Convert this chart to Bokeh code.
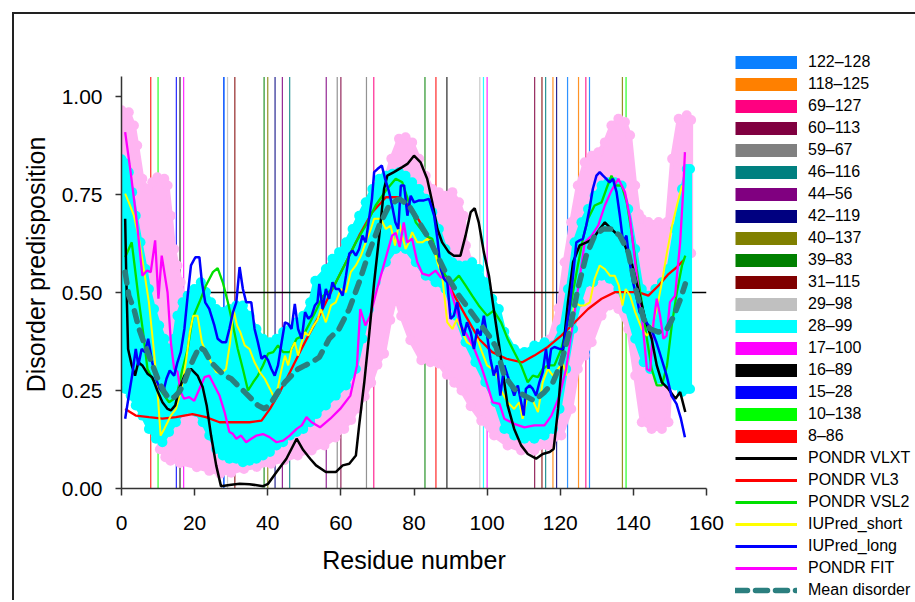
from bokeh.plotting import figure
from bokeh.models import Range1d, FixedTicker, NumeralTickFormatter, Legend, LegendItem
from bokeh.embed import file_html
from bokeh.resources import INLINE

# ---------------- data ----------------
# residue pairs (vertical marker lines), in legend order
PAIR_LABELS = ["122–128", "118–125", "69–127", "60–113", "59–67", "46–116", "44–56",
               "42–119", "40–137", "39–83", "31–115", "29–98", "28–99", "17–100",
               "16–89", "15–28", "10–138", "8–86"]
PAIR_A = [122, 118, 69, 60, 59, 46, 44, 42, 40, 39, 31, 29, 28, 17, 16, 15, 10, 8]
PAIR_B = [128, 125, 127, 113, 67, 116, 56, 119, 137, 83, 115, 98, 99, 100, 89, 28, 138, 86]
PAIR_COLORS = ["#0a80ff", "#ff8000", "#ff0080", "#800040", "#808080", "#008080", "#800080",
               "#000080", "#808000", "#008000", "#800000", "#c0c0c0", "#00ffff", "#ff00ff",
               "#000000", "#0000ff", "#00ff00", "#ff0000"]

THRESHOLD = 0.5
THRESHOLD_FROM = 15
THRESHOLD_TO = 160
Y_TOP = 1.05

X_TICKS = [0, 20, 40, 60, 80, 100, 120, 140, 160]
Y_TICKS = [0.0, 0.25, 0.5, 0.75, 1.0]

VLXT_X = [1, 1.3, 1.8, 2.8, 3.7, 4.6, 5.7, 7.1, 8.4, 9.8, 11.2, 12.6, 13.5, 14.7, 15.8, 17.2, 19, 20.8,
          22.2, 23.3, 24.5, 25.9, 27.2, 29.5, 32.3, 35, 38.7, 40.1, 42.4, 45.1, 47.9, 49.7, 51.6, 53.2,
          55.9, 58.6, 60.5, 62.3, 64.1, 65, 66.4, 67.7, 69.1, 70.5, 71.8, 72.7, 74.5, 76.8, 78.2, 80,
          81.8, 83.6, 85, 86.4, 87.7, 89.5, 90.9, 92.7, 94.1, 95.5, 96.6, 97.7, 99.1, 100.5, 101.8,
          103.2, 104.4, 105.6, 107.4, 109.3, 111.1, 113.4, 115.2, 117.1, 118.2, 119.4, 120.7, 122.1,
          123.5, 125.3, 127.2, 129, 130.8, 132.2, 134, 135.9, 137.7, 139.5, 141.3, 143.2, 145, 146.4,
          147.8, 149.6, 151.5, 152.8, 154.2]
VLXT_Y = [0.688, 0.543, 0.356, 0.314, 0.288, 0.322, 0.314, 0.293, 0.284, 0.250, 0.220, 0.203, 0.199,
          0.212, 0.254, 0.288, 0.305, 0.288, 0.259, 0.212, 0.135, 0.059, 0.006, 0.009, 0.012, 0.011,
          0.006, 0.012, 0.042, 0.076, 0.127, 0.098, 0.076, 0.059, 0.042, 0.042, 0.059, 0.063, 0.084,
          0.161, 0.271, 0.390, 0.526, 0.645, 0.764, 0.798, 0.807, 0.820, 0.828, 0.849, 0.832, 0.790,
          0.730, 0.662, 0.628, 0.603, 0.594, 0.594, 0.645, 0.705, 0.715, 0.679, 0.603, 0.543, 0.458,
          0.370, 0.290, 0.212, 0.152, 0.110, 0.088, 0.076, 0.088, 0.093, 0.101, 0.203, 0.348, 0.475,
          0.577, 0.620, 0.628, 0.637, 0.662, 0.679, 0.662, 0.645, 0.620, 0.577, 0.509, 0.433, 0.382,
          0.314, 0.271, 0.254, 0.229, 0.246, 0.195]

VL3_X = [1, 3.9, 7.5, 11.2, 14.9, 19.4, 23.1, 26.8, 30.5, 35, 38.3, 40.6, 43.3, 46.1, 48.8, 51.1, 54.1,
         57.7, 61.4, 65, 68.6, 72.3, 75.9, 79.5, 83.2, 86.8, 90.5, 94.1, 97.7, 101.4, 105.3, 109.6,
         112.9, 116.6, 120.3, 124, 127.6, 131.3, 135, 138.6, 141.3, 144.1, 146.9, 149.6, 151.9, 153.7]
VL3_Y = [0.203, 0.186, 0.182, 0.178, 0.182, 0.190, 0.182, 0.169, 0.169, 0.169, 0.173, 0.203, 0.246,
         0.297, 0.348, 0.390, 0.441, 0.509, 0.577, 0.645, 0.705, 0.743, 0.743, 0.714, 0.654, 0.577,
         0.501, 0.441, 0.382, 0.348, 0.331, 0.322, 0.339, 0.361, 0.390, 0.424, 0.458, 0.484, 0.501,
         0.501, 0.501, 0.492, 0.518, 0.547, 0.565, 0.582]

VSL2_X = [1, 2.8, 3.7, 4.8, 5.9, 7.1, 8.4, 9.8, 11.7, 13, 14.4, 15.3, 16.7, 18.1, 19.4, 21.3, 23.1, 25,
          26.3, 27.7, 29.1, 30.5, 31.8, 33.2, 34.6, 36, 37.3, 38.7, 40.1, 41.5, 42.8, 44.2, 46.1, 47.9,
          49.7, 51.6, 53.4, 55, 57.7, 61.4, 64.1, 66.8, 69.5, 72.3, 75, 76.8, 78.6, 80.5, 83.2, 85,
          86.8, 88.6, 90.5, 92.3, 94.1, 95.9, 97.7, 100, 101.8, 103.8, 105.6, 107.4, 109.3, 111.1,
          112.5, 113.9, 115.2, 116.6, 118.4, 120.3, 121.6, 123, 124.8, 126.2, 127.6, 129.4, 131.3,
          132.6, 134, 135.4, 136.8, 138.2, 139.5, 140.9, 142.3, 143.7, 145, 146.4, 147.8, 149.2,
          150.5, 151.9, 153.3, 154.2]
VSL2_Y = [0.590, 0.628, 0.560, 0.475, 0.399, 0.305, 0.280, 0.263, 0.237, 0.220, 0.229, 0.246, 0.305,
          0.356, 0.433, 0.475, 0.518, 0.552, 0.562, 0.526, 0.475, 0.416, 0.356, 0.305, 0.250, 0.271,
          0.288, 0.314, 0.344, 0.348, 0.365, 0.348, 0.348, 0.382, 0.390, 0.424, 0.458, 0.490, 0.509,
          0.577, 0.628, 0.671, 0.722, 0.760, 0.790, 0.781, 0.730, 0.679, 0.645, 0.637, 0.577, 0.543,
          0.526, 0.543, 0.518, 0.492, 0.467, 0.441, 0.454, 0.424, 0.382, 0.348, 0.314, 0.271, 0.288,
          0.284, 0.305, 0.314, 0.314, 0.356, 0.407, 0.475, 0.569, 0.637, 0.688, 0.722, 0.730, 0.764,
          0.798, 0.773, 0.773, 0.730, 0.654, 0.560, 0.475, 0.382, 0.305, 0.263, 0.263, 0.314, 0.416,
          0.501, 0.569, 0.594]

SHORT_X = [1, 2, 3.4, 4.8, 6.1, 7.5, 8.9, 9.8, 10.7, 11.7, 12.6, 13.5, 14.9, 16.2, 17.6, 18.7, 19.6,
           20.8, 22, 23.1, 24.5, 25.9, 27.2, 28.6, 29.7, 30.6, 31.6, 32.5, 33.7, 35, 36.4, 37.8, 39.2,
           40.6, 41.9, 42.8, 43.8, 44.7, 45.6, 46.5, 47.4, 48.3, 49.3, 50.2, 51.1, 52.5, 53.6, 54.5,
           55.9, 57.3, 58.6, 60, 61.4, 62.7, 64.1, 65.5, 66.8, 68.2, 69.1, 70.9, 72.3, 73.6, 74.8,
           75.9, 76.8, 77.7, 78.6, 79.5, 80.9, 82.3, 83.6, 85, 86.4, 87.7, 89.1, 90.5, 91.8, 93.2,
           94.5, 95.9, 97.3, 98.6, 100, 101.4, 102.7, 103.8, 105.6, 107.4, 108.8, 109.7, 111.1,
           112.5, 113.9, 115.2, 116.6, 118, 119.4, 120.7, 121.6, 122.5, 123.9, 125.3, 126.7, 128.1,
           129.4, 130.8, 132.2, 133.6, 134.9, 136, 137, 137.9, 139.1, 140.5, 142.3, 143.7, 145,
           146.4, 147.8, 149.2, 150.6, 151.9, 153.3]
SHORT_Y = [0.752, 0.730, 0.696, 0.637, 0.560, 0.475, 0.348, 0.254, 0.135, 0.152, 0.169, 0.186, 0.203,
           0.246, 0.322, 0.399, 0.441, 0.441, 0.373, 0.348, 0.322, 0.297, 0.293, 0.305, 0.373, 0.458,
           0.416, 0.399, 0.365, 0.356, 0.322, 0.297, 0.280, 0.254, 0.229, 0.259, 0.305, 0.339, 0.314,
           0.356, 0.373, 0.339, 0.373, 0.399, 0.390, 0.415, 0.430, 0.458, 0.424, 0.467, 0.475, 0.509,
           0.501, 0.552, 0.569, 0.594, 0.628, 0.662, 0.688, 0.688, 0.662, 0.671, 0.620, 0.679, 0.645,
           0.611, 0.628, 0.654, 0.628, 0.628, 0.637, 0.628, 0.577, 0.543, 0.424, 0.407, 0.433, 0.399,
           0.373, 0.365, 0.382, 0.348, 0.314, 0.305, 0.288, 0.250, 0.220, 0.203, 0.220, 0.178, 0.237,
           0.224, 0.195, 0.271, 0.305, 0.288, 0.305, 0.322, 0.288, 0.373, 0.475, 0.467, 0.467, 0.475,
           0.535, 0.569, 0.560, 0.543, 0.543, 0.518, 0.467, 0.509, 0.492, 0.450, 0.407, 0.390, 0.407,
           0.458, 0.526, 0.603, 0.671, 0.722, 0.773]

LONG_X = [1, 2, 2.9, 3.9, 4.6, 5.5, 6.4, 7.3, 8.4, 9.4, 10.5, 11.4, 12.3, 13.2, 14.4, 15.3, 16.2, 17.2,
          18.1, 19, 20.2, 21.3, 22, 22.9, 24, 25.4, 26.3, 27.5, 28.6, 29.5, 30.5, 31.4, 32.3, 33.2,
          34.1, 35.5, 36.4, 37.3, 38.3, 39.2, 40.1, 41, 41.9, 42.8, 43.8, 44.7, 45.6, 46.5, 47.4,
          48.3, 49.3, 50.2, 51.1, 52, 52.9, 53.6, 54.1, 55, 55.9, 56.8, 57.7, 58.6, 59.5, 60.5, 61.4,
          62.3, 63.2, 64.1, 65, 65.9, 66.8, 67.7, 68.5, 69.1, 70, 71.2, 72.1, 73.2, 74, 74.9, 75.7,
          76.4, 77.3, 78.2, 79.1, 80, 81.4, 82.7, 84.1, 85.5, 86.4, 87.3, 88.2, 89.1, 90, 90.9, 91.8,
          92.7, 93.6, 94.5, 95.5, 96.4, 97.3, 98.2, 99.1, 100, 100.9, 101.8, 102.7, 103.6, 104.7,
          105.6, 106.5, 107.4, 108.4, 109.3, 110, 110.6, 111.6, 112.5, 113.4, 114.3, 115.2, 116.1,
          116.8, 117.5, 118.4, 119.8, 120.7, 121.6, 122.5, 123.5, 124.4, 125.3, 126.2, 127.1, 128,
          128.9, 129.9, 130.8, 131.7, 132.6, 133.5, 134.4, 135.4, 136.3, 137.2, 138.1, 139, 139.9,
          140.8, 141.7, 142.6, 143.5, 144.9, 146.3, 147.7, 149.1, 150.4, 151.8, 153, 154.1]
LONG_Y = [0.178, 0.237, 0.288, 0.356, 0.314, 0.356, 0.348, 0.382, 0.322, 0.280, 0.254, 0.246, 0.280,
          0.301, 0.288, 0.322, 0.348, 0.407, 0.492, 0.569, 0.590, 0.590, 0.526, 0.475, 0.458, 0.416,
          0.382, 0.373, 0.373, 0.407, 0.450, 0.475, 0.565, 0.509, 0.475, 0.475, 0.407, 0.373, 0.331,
          0.339, 0.327, 0.305, 0.288, 0.314, 0.373, 0.424, 0.420, 0.407, 0.471, 0.407, 0.382, 0.450,
          0.433, 0.441, 0.467, 0.475, 0.522, 0.458, 0.509, 0.484, 0.526, 0.509, 0.509, 0.492, 0.543,
          0.599, 0.607, 0.594, 0.611, 0.645, 0.628, 0.688, 0.739, 0.807, 0.815, 0.824, 0.790, 0.756,
          0.722, 0.679, 0.662, 0.773, 0.773, 0.696, 0.747, 0.730, 0.735, 0.735, 0.739, 0.696, 0.637,
          0.560, 0.535, 0.526, 0.433, 0.441, 0.475, 0.424, 0.390, 0.424, 0.399, 0.356, 0.407, 0.390,
          0.441, 0.390, 0.331, 0.288, 0.314, 0.237, 0.314, 0.288, 0.263, 0.237, 0.263, 0.220, 0.186,
          0.254, 0.263, 0.254, 0.237, 0.271, 0.297, 0.356, 0.305, 0.356, 0.361, 0.356, 0.356, 0.407,
          0.458, 0.543, 0.628, 0.633, 0.637, 0.671, 0.713, 0.764, 0.798, 0.807, 0.798, 0.790, 0.781,
          0.790, 0.756, 0.696, 0.628, 0.645, 0.577, 0.526, 0.492, 0.450, 0.441, 0.424, 0.407, 0.373,
          0.331, 0.288, 0.237, 0.216, 0.178, 0.131]

FIT_X = [1, 2.5, 4.3, 5.7, 7, 8, 9.2, 10.1, 11, 12.6, 13.5, 14.4, 15.3, 16.2, 17.1, 18.5, 19.9, 21.3,
         22.7, 24, 25.4, 26.8, 28.2, 29.5, 30.4, 31.4, 32.7, 34.1, 35.5, 36.9, 38.7, 40.5, 42.4, 44.2,
         46, 47.9, 49.3, 50.6, 52, 54.3, 57.1, 59.8, 62.6, 64.4, 65.3, 66.7, 68, 69.9, 71.7, 74, 75,
         76.1, 77.2, 78.1, 79.5, 80.9, 82.3, 84.1, 85.9, 87.3, 89.1, 91, 92.8, 94.6, 96.5, 98.3,
         100.1, 101.5, 103.4, 104.7, 107.4, 110.2, 112.9, 115.7, 117.6, 119.8, 121.6, 123.5, 125.4,
         126.7, 128.6, 130.4, 132.2, 134, 135.9, 137.7, 139.1, 140.5, 142.3, 143.7, 144.6, 145.5,
         146.4, 147.3, 148.2, 149.1, 150, 151.4, 152.8, 153.6, 154.1]
FIT_Y = [0.909, 0.807, 0.671, 0.543, 0.556, 0.552, 0.633, 0.484, 0.594, 0.500, 0.373, 0.305, 0.298,
         0.246, 0.229, 0.233, 0.224, 0.254, 0.284, 0.288, 0.263, 0.237, 0.195, 0.144, 0.140, 0.127,
         0.135, 0.118, 0.127, 0.135, 0.139, 0.131, 0.118, 0.122, 0.135, 0.152, 0.161, 0.182, 0.169,
         0.156, 0.178, 0.203, 0.237, 0.314, 0.458, 0.416, 0.441, 0.509, 0.569, 0.645, 0.652, 0.616,
         0.679, 0.628, 0.637, 0.577, 0.548, 0.543, 0.556, 0.539, 0.535, 0.475, 0.416, 0.390, 0.356,
         0.314, 0.263, 0.220, 0.216, 0.178, 0.165, 0.156, 0.161, 0.161, 0.186, 0.237, 0.305, 0.424,
         0.543, 0.628, 0.645, 0.671, 0.722, 0.760, 0.790, 0.756, 0.688, 0.577, 0.441, 0.305, 0.300,
         0.424, 0.484, 0.441, 0.382, 0.390, 0.475, 0.492, 0.628, 0.756, 0.858]

MEAN_X = [1, 2, 3.4, 4.8, 6.1, 7.5, 8.9, 10.3, 11.7, 13, 14.4, 15.8, 17.2, 18.5, 19.9, 21.3, 22.7, 24.5,
          26.3, 28.2, 30, 31.8, 33.7, 35.5, 37.3, 39.2, 41, 42.8, 44.7, 46.5, 48.3, 50.2, 52, 54.1,
          56.8, 59.5, 62.3, 65, 67.7, 70.5, 73.2, 75.9, 78.6, 81.4, 84.1, 86.8, 89.5, 92.3, 95, 97.7,
          100.5, 102.5, 104.7, 107.4, 110.2, 112.9, 115.7, 118, 120.3, 122.5, 124.8, 127.1, 129.4,
          131.7, 134, 136.3, 138.6, 140.9, 142.8, 144.6, 146.9, 149.2, 151.1, 152.9, 154.2]
MEAN_Y = [0.552, 0.492, 0.458, 0.407, 0.373, 0.339, 0.305, 0.271, 0.246, 0.229, 0.233, 0.246, 0.271,
          0.305, 0.335, 0.361, 0.352, 0.322, 0.305, 0.288, 0.280, 0.263, 0.246, 0.229, 0.212, 0.203,
          0.220, 0.246, 0.271, 0.288, 0.305, 0.314, 0.322, 0.335, 0.382, 0.407, 0.458, 0.526, 0.603,
          0.671, 0.722, 0.739, 0.722, 0.679, 0.637, 0.586, 0.535, 0.492, 0.458, 0.424, 0.390, 0.360,
          0.288, 0.254, 0.237, 0.224, 0.246, 0.271, 0.322, 0.399, 0.509, 0.594, 0.645, 0.662, 0.662,
          0.645, 0.603, 0.501, 0.433, 0.407, 0.399, 0.407, 0.441, 0.484, 0.522]

# cyan band (mean disorder spread)
CYAN_UP_X = [0, 1, 2, 2.9, 3.9, 5.2, 6.6, 7.5, 8.9, 10.3, 11.7, 13, 14.4, 15.3, 16.7, 18.1, 19.9, 21.7,
             23.1, 24.5, 25.9, 27.7, 29.5, 31.4, 33.2, 35, 36.9, 38.7, 40.6, 42.4, 44.2, 46.1, 47.9,
             49.7, 51.6, 53, 55.9, 57.7, 59.5, 61.4, 63.2, 65, 66.8, 68.6, 70.5, 72.3, 74.1, 75.9,
             77.7, 79.5, 81.4, 83.2, 85, 86.8, 88.6, 90.5, 92.3, 94.1, 95.9, 97.7, 99.5, 101.4, 103.2,
             104.7, 107.4, 110.2, 112.9, 115.7, 118, 120.3, 122.1, 123.9, 125.8, 127.6, 129.4, 131.3,
             133.1, 134.9, 136.8, 138.6, 140.5, 142.3, 144.1, 146, 147.8, 149.6, 151.4, 153.3, 154.6,
             155.5]
CYAN_UP_Y = [0.840, 0.830, 0.807, 0.756, 0.696, 0.628, 0.560, 0.509, 0.458, 0.416, 0.382, 0.356, 0.382,
             0.441, 0.475, 0.492, 0.509, 0.526, 0.501, 0.475, 0.458, 0.450, 0.458, 0.467, 0.467, 0.441,
             0.407, 0.382, 0.373, 0.382, 0.399, 0.407, 0.424, 0.441, 0.475, 0.530, 0.560, 0.586, 0.603,
             0.628, 0.662, 0.696, 0.730, 0.764, 0.790, 0.798, 0.803, 0.807, 0.798, 0.781, 0.764, 0.739,
             0.705, 0.662, 0.611, 0.577, 0.569, 0.569, 0.577, 0.560, 0.526, 0.484, 0.458, 0.400, 0.356,
             0.348, 0.365, 0.373, 0.365, 0.407, 0.509, 0.628, 0.679, 0.713, 0.747, 0.773, 0.781, 0.781,
             0.773, 0.713, 0.611, 0.509, 0.492, 0.509, 0.526, 0.560, 0.662, 0.764, 0.815, 0.815]
CYAN_LO_X = [0, 1.1, 2.5, 3.9, 5.7, 7.5, 9.4, 11.2, 13, 14.9, 16.7, 18.5, 20.4, 22.2, 24, 25.9, 27.7,
             29.5, 31.4, 33.2, 35, 36.9, 38.7, 40.6, 42.4, 44.2, 46.1, 47.9, 49.7, 51.6, 53.4, 55.9,
             58.6, 61.4, 64.1, 65.9, 67.7, 69.5, 72.3, 75, 77.7, 80.5, 83.2, 85.9, 88.6, 91.4, 94.1,
             96.8, 99.5, 102.3, 104.7, 107.4, 110.2, 112.9, 115.7, 118, 119.8, 121.6, 123.5, 125.3,
             127.1, 129, 131.3, 133.5, 135.9, 138.2, 140.5, 142.8, 144.6, 146.9, 149.2, 151.4, 153.3,
             154.6, 155.5]
CYAN_LO_Y = [0.288, 0.254, 0.237, 0.212, 0.186, 0.152, 0.127, 0.118, 0.144, 0.169, 0.195, 0.203, 0.195,
             0.169, 0.135, 0.101, 0.084, 0.076, 0.076, 0.067, 0.071, 0.076, 0.084, 0.093, 0.110, 0.118,
             0.135, 0.144, 0.152, 0.169, 0.190, 0.212, 0.237, 0.263, 0.305, 0.382, 0.458, 0.526, 0.577,
             0.611, 0.611, 0.577, 0.543, 0.526, 0.509, 0.441, 0.373, 0.322, 0.271, 0.220, 0.152, 0.135,
             0.127, 0.127, 0.135, 0.152, 0.203, 0.305, 0.407, 0.475, 0.526, 0.526, 0.543, 0.535, 0.509,
             0.458, 0.382, 0.322, 0.305, 0.280, 0.271, 0.263, 0.246, 0.254, 0.254]

# pink band (PONDR FIT error)
PINK_UP_X = [0, 2, 3.4, 4.3, 5.7, 7.1, 8.4, 9.8, 11.7, 12.6, 13.5, 14.4, 15.3, 16.2, 17.2, 18.5, 21,
             25, 30, 35, 40, 45, 50, 55, 60, 64, 67, 70, 72, 73.8, 75.9, 77.7, 79.5, 81.4, 83.2, 85,
             86.8, 88.6, 90.5, 92.3, 93.6, 94.2, 95.5, 98, 102, 106, 110, 114, 117, 119.5, 121.2, 123,
             124.8, 126.7, 128.6, 130.4, 132.2, 134, 135.9, 137.7, 139.1, 140.5, 141.5, 142.3, 144.1,
             146.9, 149.2, 150.6, 152.4, 154.6, 155.8]
PINK_UP_Y = [0.965, 0.960, 0.926, 0.875, 0.790, 0.764, 0.781, 0.794, 0.790, 0.773, 0.696, 0.611, 0.569,
             0.526, 0.475, 0.420, 0.400, 0.400, 0.320, 0.300, 0.280, 0.300, 0.330, 0.380, 0.420, 0.500,
             0.620, 0.720, 0.780, 0.841, 0.892, 0.896, 0.883, 0.841, 0.798, 0.764, 0.756, 0.747, 0.756,
             0.730, 0.696, 0.620, 0.580, 0.450, 0.400, 0.350, 0.330, 0.340, 0.380, 0.460, 0.577, 0.679,
             0.773, 0.832, 0.849, 0.858, 0.883, 0.926, 0.943, 0.935, 0.901, 0.773, 0.700, 0.688, 0.680,
             0.680, 0.680, 0.841, 0.943, 0.952, 0.940]
PINK_LO_X = [0, 2, 4, 6, 8, 9.5, 10.5, 12, 13.4, 16, 20.6, 24, 27, 30, 33.5, 37, 40.9, 44.5, 48.2, 52,
             55.5, 58.5, 60.9, 62.8, 64.6, 66.5, 68.3, 70, 71.8, 73.5, 75, 76.5, 79, 82, 84.5, 86.7,
             89, 91, 93, 95.5, 98.4, 101.9, 105.6, 109.3, 112.9, 116.6, 120.3, 123, 124.8, 126.7,
             128.6, 131.3, 133.5, 135.9, 138.6, 140.5, 142.3, 145, 147.8, 149.6, 150.8, 152.5, 155.8]
PINK_LO_Y = [0.600, 0.550, 0.450, 0.350, 0.250, 0.150, 0.100, 0.080, 0.071, 0.065, 0.054, 0.045, 0.038,
             0.040, 0.050, 0.055, 0.063, 0.072, 0.084, 0.097, 0.110, 0.130, 0.152, 0.175, 0.204, 0.235,
             0.270, 0.316, 0.344, 0.430, 0.487, 0.440, 0.378, 0.327, 0.322, 0.319, 0.290, 0.270, 0.250,
             0.210, 0.173, 0.135, 0.110, 0.097, 0.097, 0.110, 0.135, 0.203, 0.305, 0.339, 0.373, 0.441,
             0.467, 0.458, 0.407, 0.288, 0.169, 0.152, 0.152, 0.169, 0.400, 0.550, 0.600]

PINK = "#ffb5f2"
CYAN = "#00ffff"

# ---------------- figure ----------------
p = figure(frame_width=585, frame_height=448, output_backend="svg", toolbar_location=None,
           x_range=Range1d(0, 160), y_range=Range1d(0, 1.1429),
           min_border_left=121, min_border_right=208, min_border_top=40, min_border_bottom=112)
p.grid.visible = False
p.outline_line_color = None
p.border_fill_color = None
p.background_fill_color = "white"
p.styles = {"box-shadow": "inset 12px 12px 0 0 #ffffff, inset 14px 14px 0 0 #222222"}

FONT = "Liberation Sans"
for ax in (p.xaxis[0], p.yaxis[0]):
    ax.axis_line_width = 1.5
    ax.axis_line_color = "#333333"
    ax.major_tick_line_color = "#333333"
    ax.major_tick_line_width = 1.5
    ax.major_tick_in = 0
    ax.minor_tick_line_color = None
    ax.major_label_text_font = FONT
    ax.major_label_text_font_size = "21px"
    ax.major_label_text_color = "black"
    ax.axis_label_text_font = FONT
    ax.axis_label_text_font_size = "25px"
    ax.axis_label_text_font_style = "normal"
    ax.axis_label_text_color = "black"

p.xaxis.bounds = (0, 160)
p.xaxis.ticker = FixedTicker(ticks=X_TICKS)
p.xaxis.major_tick_out = 7
p.xaxis.major_label_standoff = 20
p.xaxis.axis_label = "Residue number"
p.xaxis.axis_label_standoff = 13

p.yaxis.bounds = (0, Y_TOP)
p.yaxis.ticker = FixedTicker(ticks=Y_TICKS)
p.yaxis.formatter = NumeralTickFormatter(format="0.00")
p.yaxis.major_tick_out = 6
p.yaxis.major_label_standoff = 13
p.yaxis.axis_label = "Disorder predisposition"
p.yaxis.axis_label_standoff = 9

# vertical residue-pair lines
for a, b, c in zip(PAIR_A, PAIR_B, PAIR_COLORS):
    p.segment(x0=[a, b], y0=[0, 0], x1=[a, b], y1=[Y_TOP, Y_TOP], line_color=c, line_width=1.2,
              line_alpha=0.85)

# threshold
p.segment(x0=[THRESHOLD_FROM], y0=[THRESHOLD], x1=[THRESHOLD_TO], y1=[THRESHOLD],
          line_color="black", line_width=1.3)

# bands (patch plus round beads on the edges, like the thick-marker bands of the original)
p.patch(PINK_UP_X + PINK_LO_X[::-1], PINK_UP_Y + PINK_LO_Y[::-1], fill_color=PINK,
        line_color=PINK, line_width=4, line_join="round")
p.scatter(PINK_UP_X + PINK_LO_X, PINK_UP_Y + PINK_LO_Y, size=10, marker="circle",
          fill_color=PINK, line_color=None)
p.patch(CYAN_UP_X + CYAN_LO_X[::-1], CYAN_UP_Y + CYAN_LO_Y[::-1], fill_color=CYAN,
        line_color=CYAN, line_width=4, line_join="round")
p.scatter(CYAN_UP_X + CYAN_LO_X, CYAN_UP_Y + CYAN_LO_Y, size=10, marker="circle",
          fill_color=CYAN, line_color=None)

# predictor curves
p.line(VL3_X, VL3_Y, line_color="#ff0000", line_width=2.3)
p.line(VSL2_X, VSL2_Y, line_color="#00e000", line_width=2.3)
p.line(SHORT_X, SHORT_Y, line_color="#ffff00", line_width=2.0)
p.line(FIT_X, FIT_Y, line_color="#ff00ff", line_width=2.3)
p.line(VLXT_X, VLXT_Y, line_color="#000000", line_width=2.5)
p.line(LONG_X, LONG_Y, line_color="#0000ff", line_width=2.5)
p.line(MEAN_X, MEAN_Y, line_color="#2b7f7f", line_width=5.5, line_dash="11 9", line_cap="round")

# legend swatches (legend-only renderers with a single NaN point, so nothing is drawn in the plot)
NAN = [float("nan")]
items = []
for lab, c in zip(PAIR_LABELS, PAIR_COLORS):
    r = p.line(NAN, NAN, line_color=c, line_width=13)
    items.append(LegendItem(label=lab, renderers=[r]))
LINE_LABELS = ["PONDR VLXT", "PONDR VL3", "PONDR VSL2", "IUPred_short", "IUPred_long", "PONDR FIT"]
LINE_COLORS = ["#000000", "#ff0000", "#00e000", "#ffff00", "#0000ff", "#ff00ff"]
for lab, c in zip(LINE_LABELS, LINE_COLORS):
    r = p.line(NAN, NAN, line_color=c, line_width=3)
    items.append(LegendItem(label=lab, renderers=[r]))
r = p.line(NAN, NAN, line_color="#2b7f7f", line_width=5.5, line_dash="12 8", line_cap="round")
items.append(LegendItem(label="Mean disorder", renderers=[r]))

legend = Legend(items=items, location=(29, -111), padding=0, margin=0, spacing=4,
                glyph_width=62, glyph_height=16, label_height=16, label_standoff=11,
                label_text_font=FONT, label_text_font_size="16px", label_text_color="black",
                border_line_color=None, background_fill_alpha=0)
p.add_layout(legend, "right")

open("out.html", "w").write(file_html(p, INLINE))
